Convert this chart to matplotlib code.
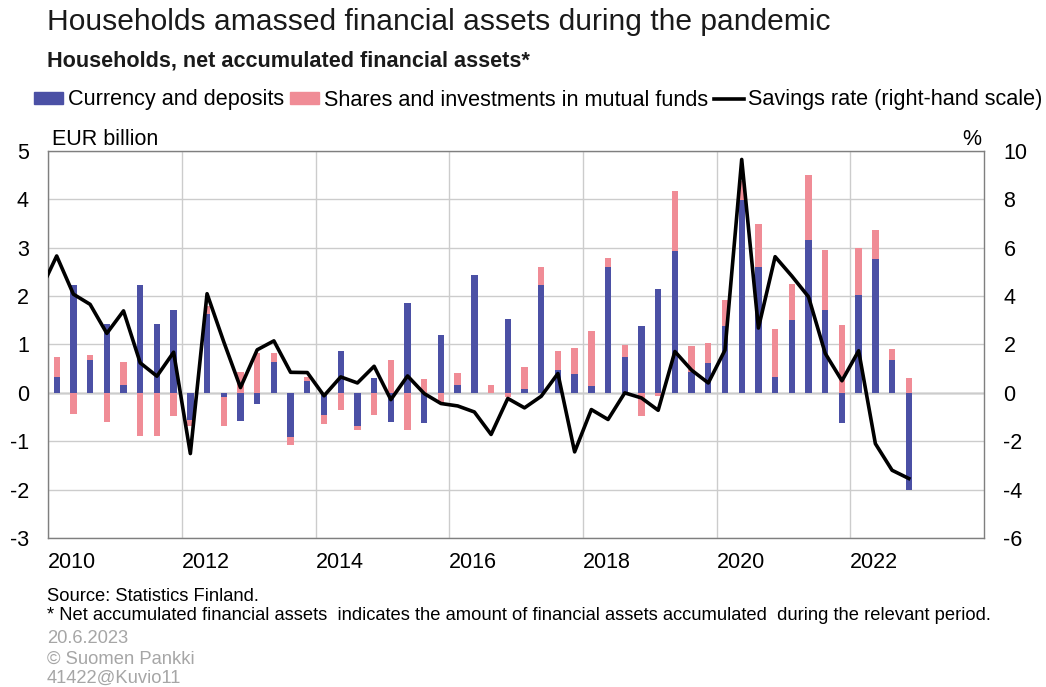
import numpy as np
import matplotlib
matplotlib.use("Agg")
import matplotlib.pyplot as plt
from matplotlib.patches import Patch
from matplotlib.lines import Line2D

plt.rcParams['font.family'] = ['Liberation Sans', 'DejaVu Sans']
plt.rcParams['axes.unicode_minus'] = False

# Quarterly data 2010Q1 - 2022Q4, EUR billion
deposits = [0.32, 2.22, 0.68, 1.43, 0.16, 2.24, 1.43, 1.72,
            -0.56, 1.64, -0.08, -0.59, -0.23, 0.63, -0.92, 0.25,
            -0.45, 0.86, -0.68, 0.30, -0.60, 1.85, -0.62, 1.19,
            0.17, 2.43, 0.00, 1.52, 0.08, 2.24, 0.47, 0.38,
            0.14, 2.61, 0.74, 1.39, 2.14, 2.93, 0.43, 0.61,
            1.39, 3.99, 2.61, 0.33, 1.50, 3.16, 1.72, -0.63,
            2.02, 2.76, 0.68, -2.00]
shares = [0.42, -0.44, 0.10, -0.61, 0.47, -0.89, -0.89, -0.48,
          -0.12, 0.15, -0.60, 0.44, 0.82, 0.19, -0.15, 0.07,
          -0.20, -0.36, -0.09, -0.46, 0.68, -0.77, 0.28, -0.22,
          0.24, 0.00, 0.17, -0.08, 0.46, 0.37, 0.39, 0.55,
          1.13, 0.17, 0.24, -0.48, -0.07, 1.25, 0.54, 0.42,
          0.54, 0.40, 0.89, 1.00, 0.75, 1.34, 1.23, 1.40,
          0.98, 0.61, 0.22, 0.30]
# savings rate, %, starting from 2009Q4
savings = [4.20,
           5.66, 4.08, 3.66, 2.46, 3.39, 1.24, 0.69, 1.68,
           -2.51, 4.10, 2.11, 0.22, 1.78, 2.15, 0.85, 0.84,
           -0.12, 0.66, 0.41, 1.10, -0.28, 0.70, -0.03, -0.44,
           -0.54, -0.79, -1.72, -0.23, -0.62, -0.14, 0.80, -2.44,
           -0.69, -1.10, 0.00, -0.21, -0.72, 1.71, 0.94, 0.41,
           1.77, 9.65, 2.68, 5.63, 4.83, 3.97, 1.63, 0.50,
           1.74, -2.10, -3.20, -3.54]
years = ["2010", "2012", "2014", "2016", "2018", "2020", "2022"]

BLUE = "#4b50a5"
PINK = "#f08c96"

dep = np.array(deposits)
sh = np.array(shares)
x = np.arange(len(dep)) + 0.5
# shares stack on deposits when both have the same sign
bottom = np.where(np.sign(sh) == np.sign(dep), dep, 0)

fig = plt.figure(figsize=(10.46, 6.87), dpi=100)
ax = fig.add_axes([0.0462, 0.2169, 0.8945, 0.5633])

ax.bar(x, dep, width=0.38, color=BLUE, zorder=2)
ax.bar(x, sh, width=0.38, bottom=bottom, color=PINK, zorder=2)

ax.set_xlim(0, 56)
ax.set_ylim(-3, 5)
ax.set_yticks(range(-3, 6))
ax.set_xticks(range(0, 56, 8))
ax.set_xticklabels(years, ha="left")
ax.grid(True, color="#cccccc", lw=1.0, zorder=0)
ax.axhline(0, color="#7a7a7a", lw=1.0, zorder=1)
ax.tick_params(axis="y", length=0, pad=14, labelsize=15.5)
ax.tick_params(axis="x", length=0, pad=10, labelsize=15.5)
for s in ax.spines.values():
    s.set_color("#7f7f7f")
    s.set_linewidth(1.0)

ax2 = ax.twinx()
ax2.plot(np.arange(len(savings)) - 0.5, savings, color="black", lw=2.6, zorder=3)
ax2.set_ylim(-6, 10)
ax2.set_yticks(range(-6, 11, 2))
ax2.tick_params(axis="y", length=0, pad=14, labelsize=15.5)
for s in ax2.spines.values():
    s.set_visible(False)
ax2.set_xlim(0, 56)

H = 687
W = 1046
fig.text(47 / W, 1 - 30 / H, "Households amassed financial assets during the pandemic",
         fontsize=21.6, va="baseline", color="#1a1a1a")
fig.text(47 / W, 1 - 66 / H, "Households, net accumulated financial assets*",
         fontsize=15.6, fontweight="bold", va="baseline", color="#1a1a1a")
fig.text(52 / W, 1 - 145 / H, "EUR billion", fontsize=15.5, va="baseline")
fig.text(981 / W, 1 - 145 / H, "%", fontsize=15.5, va="baseline", ha="right")

handles = [Patch(color=BLUE), Patch(color=PINK), Line2D([], [], color="black", lw=2.6)]
labels = ["Currency and deposits", "Shares and investments in mutual funds",
          "Savings rate (right-hand scale)"]
fig.legend(handles, labels, loc="center left", bbox_to_anchor=(34 / W, 1 - 100 / H),
           ncol=3, frameon=False, fontsize=15.6, handlelength=1.35, handleheight=0.45,
           handletextpad=0.2, columnspacing=0.3, borderpad=0, borderaxespad=0)

fig.text(47 / W, 1 - 601 / H, "Source: Statistics Finland.", fontsize=13.2, va="baseline")
fig.text(47 / W, 1 - 620 / H,
         "* Net accumulated financial assets  indicates the amount of financial assets "
         "accumulated  during the relevant period.", fontsize=13.2, va="baseline")
for txt, yb in [("20.6.2023", 643), ("\u00a9 Suomen Pankki", 664), ("41422@Kuvio11", 683)]:
    fig.text(47 / W, 1 - yb / H, txt, fontsize=13.2, va="baseline", color="#a6a6a6")

fig.savefig("out.png", dpi=100)
